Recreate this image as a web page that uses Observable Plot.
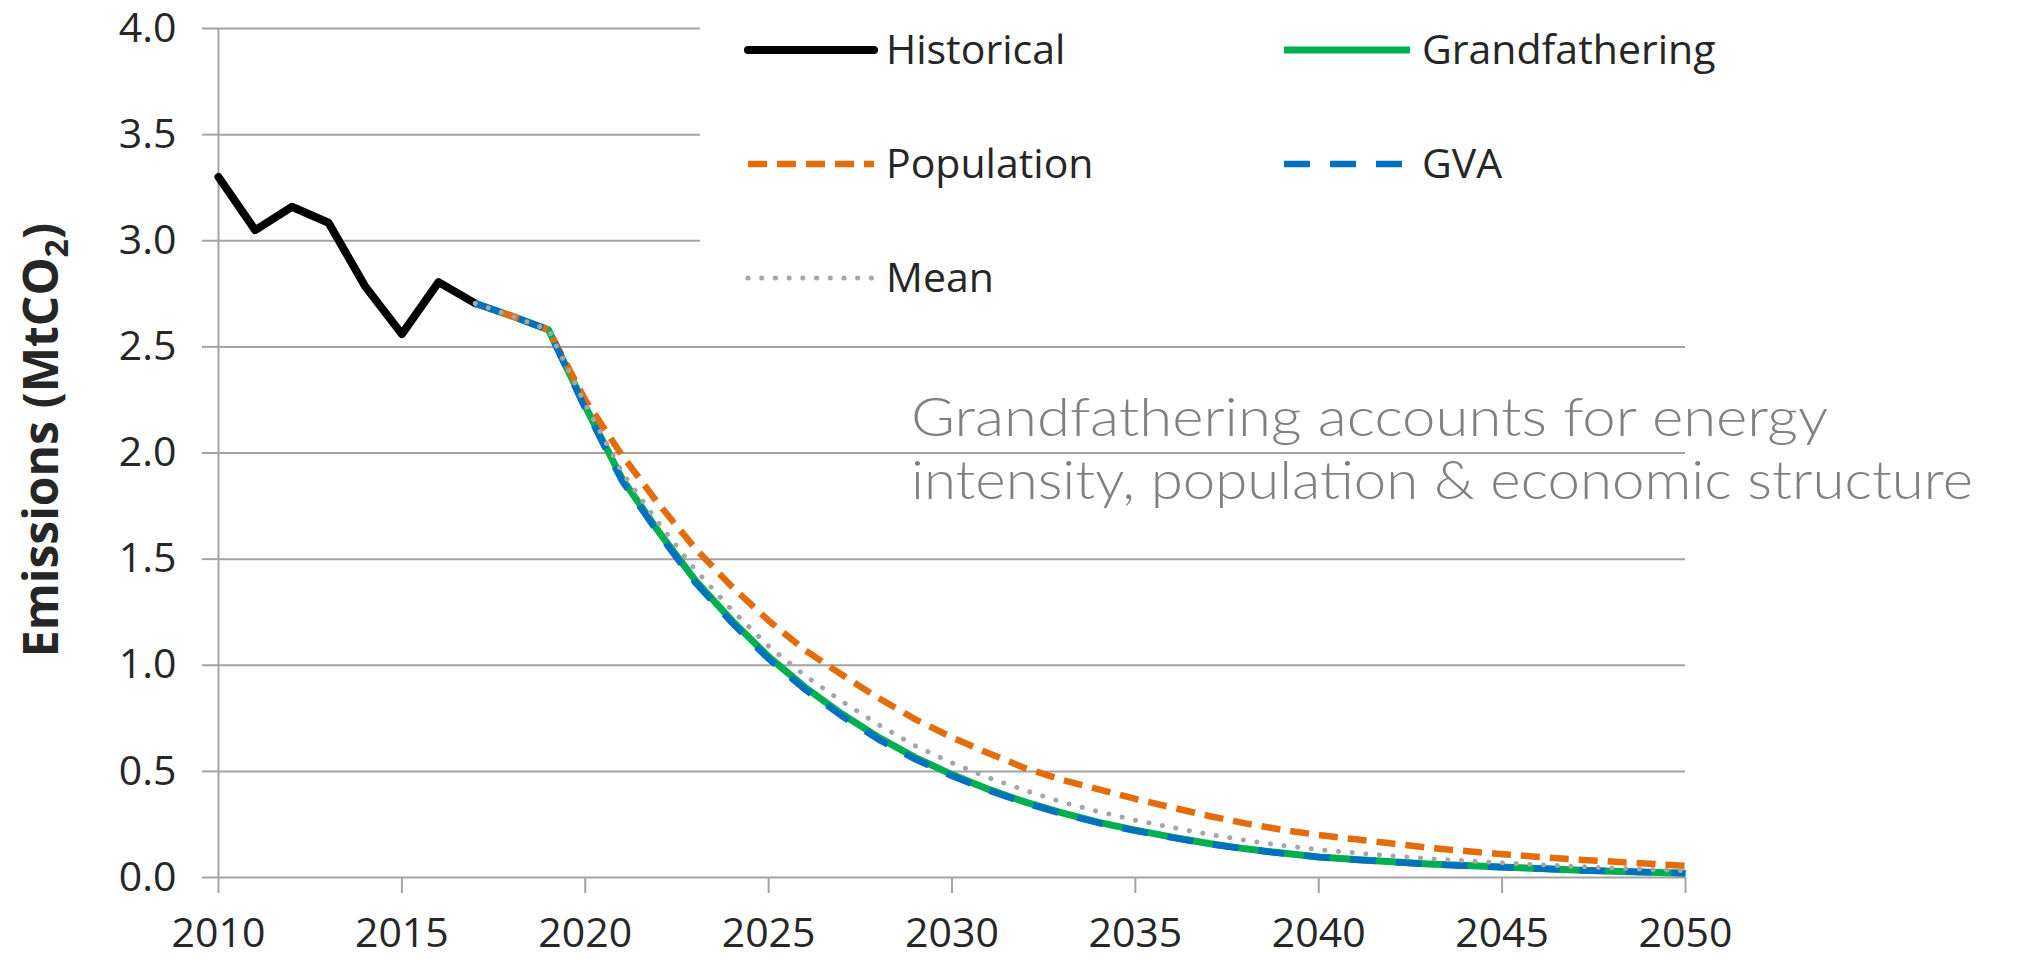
<!DOCTYPE html>
<html>
<head>
<meta charset="utf-8">
<script src="https://cdn.jsdelivr.net/npm/d3@7"></script>
<script src="https://cdn.jsdelivr.net/npm/@observablehq/plot@0.6"></script>
<style>
  html, body { margin: 0; padding: 0; background: #ffffff; }
  #chart { width: 2029px; height: 959px; }
</style>
</head>
<body>
<div id="chart"></div>
<script>
// ---------------- data ----------------
const histYears = [2010, 2011, 2012, 2013, 2014, 2015, 2016, 2017];
const historical = [3.30, 3.05, 3.16, 3.085, 2.785, 2.56, 2.805, 2.705];

const projYears = [2017, 2018, 2019, 2020, 2021, 2022, 2023, 2024, 2025, 2026,
  2027, 2028, 2029, 2030, 2031, 2032, 2033, 2034, 2035, 2036, 2037, 2038, 2039,
  2040, 2041, 2042, 2043, 2044, 2045, 2046, 2047, 2048, 2049, 2050];

const grandfathering = [2.705, 2.645, 2.58, 2.22, 1.88, 1.63, 1.40, 1.21, 1.04, 0.895,
  0.77, 0.66, 0.565, 0.485, 0.415, 0.355, 0.305, 0.26, 0.223, 0.19, 0.16, 0.135, 0.115,
  0.097, 0.085, 0.074, 0.064, 0.056, 0.049, 0.042, 0.035, 0.03, 0.025, 0.02];

const population = [2.705, 2.645, 2.58, 2.25, 1.99, 1.76, 1.55, 1.37, 1.21, 1.07,
  0.955, 0.845, 0.745, 0.66, 0.585, 0.515, 0.46, 0.415, 0.37, 0.33, 0.29, 0.255, 0.225,
  0.20, 0.18, 0.16, 0.14, 0.125, 0.11, 0.097, 0.085, 0.075, 0.065, 0.055];

const gva = [2.705, 2.645, 2.58, 2.21, 1.87, 1.62, 1.39, 1.20, 1.03, 0.885,
  0.76, 0.65, 0.557, 0.478, 0.41, 0.35, 0.30, 0.257, 0.22, 0.188, 0.158, 0.134, 0.114,
  0.096, 0.084, 0.073, 0.063, 0.055, 0.048, 0.042, 0.035, 0.03, 0.025, 0.02];

const mean = [2.705, 2.645, 2.58, 2.23, 1.91, 1.67, 1.45, 1.26, 1.09, 0.95,
  0.83, 0.72, 0.62, 0.54, 0.47, 0.41, 0.355, 0.31, 0.27, 0.236, 0.203, 0.175, 0.151,
  0.131, 0.116, 0.102, 0.089, 0.079, 0.069, 0.06, 0.052, 0.045, 0.038, 0.032];

const xTicks = [2010, 2015, 2020, 2025, 2030, 2035, 2040, 2045, 2050];
const yTicks = [0, 0.5, 1.0, 1.5, 2.0, 2.5, 3.0, 3.5, 4.0];

const seriesNames = ["Historical", "Grandfathering", "Population", "GVA", "Mean"];
const yLabel = "Emissions (MtCO";
const yLabelSub = "2";
const annotationLines = [
  "Grandfathering accounts for energy",
  "intensity, population & economic structure"
];

// ---------------- styles ----------------
const gridColor = "#a3a3a3";
const ink = "#262626";
const styles = {
  Historical:     {stroke: "#000000", strokeWidth: 8,   dash: null,       cap: "round"},
  Grandfathering: {stroke: "#00b050", strokeWidth: 7,   dash: null,       cap: "butt"},
  Population:     {stroke: "#e46c0a", strokeWidth: 6.5, dash: "19,10",    cap: "butt"},
  GVA:            {stroke: "#0070c0", strokeWidth: 6.5, dash: "26,20",    cap: "butt"},
  Mean:           {stroke: "#a6a6a6", strokeWidth: 5,   dash: "0.1,13.6", cap: "round"}
};

const rows = (years, vals) => years.map((year, i) => ({year, value: vals[i]}));
const seriesData = {
  Historical: rows(histYears, historical),
  Grandfathering: rows(projYears, grandfathering),
  Population: rows(projYears, population),
  GVA: rows(projYears, gva),
  Mean: rows(projYears, mean)
};

const lineMark = name => Plot.line(seriesData[name], {
  x: "year", y: "value",
  stroke: styles[name].stroke,
  strokeWidth: styles[name].strokeWidth,
  strokeDasharray: styles[name].dash,
  strokeLinecap: styles[name].cap,
  strokeLinejoin: "round"
});

const W = 2029, H = 959;
const plot = Plot.plot({
  width: W, height: H,
  marginLeft: 218, marginRight: 344, marginTop: 28, marginBottom: 82,
  style: {fontFamily: "'Open Sans', 'Liberation Sans', sans-serif", fontSize: "41px", color: ink, background: "#ffffff", overflow: "visible"},
  x: {domain: [2010, 2050]},
  y: {domain: [0, 4]},
  marks: [
    Plot.gridY(yTicks, {stroke: gridColor, strokeOpacity: 1, strokeWidth: 2}),
    Plot.axisY(yTicks, {tickFormat: d3.format(".1f"), tickSize: 16, tickPadding: 26,
      stroke: gridColor, strokeWidth: 2, strokeOpacity: 1, fill: ink, fontSize: 41, label: null}),
    Plot.axisX(xTicks, {tickFormat: d => String(d), tickSize: 16, tickPadding: 24,
      stroke: gridColor, strokeWidth: 2, strokeOpacity: 1, fill: ink, fontSize: 41, label: null}),
    Plot.ruleX([2010], {stroke: gridColor, strokeWidth: 2}),
    lineMark("Historical"),
    lineMark("Grandfathering"),
    lineMark("Population"),
    lineMark("GVA"),
    lineMark("Mean")
  ]
});

document.getElementById("chart").appendChild(plot);

// ---------------- overlay: legend, annotation, y label ----------------
const svg = d3.select(plot);

// legend (inside plot area, white box)
const legend = svg.append("g").attr("class", "legend").attr("text-anchor", "start");
legend.append("rect")
  .attr("x", 700).attr("y", 0).attr("width", 1329).attr("height", 312)
  .attr("fill", "#ffffff");
const legendLayout = [
  {name: "Historical",     col: 0, row: 0},
  {name: "Grandfathering", col: 1, row: 0},
  {name: "Population",     col: 0, row: 1},
  {name: "GVA",            col: 1, row: 1},
  {name: "Mean",           col: 0, row: 2}
];
const colX = [748, 1284], rowY = [50, 164, 278], swatchLen = 126;
legendLayout.forEach(({name, col, row}) => {
  const s = styles[name];
  const x0 = colX[col], y0 = rowY[row];
  legend.append("line")
    .attr("x1", x0).attr("x2", x0 + swatchLen)
    .attr("y1", y0).attr("y2", y0)
    .attr("stroke", s.stroke).attr("stroke-width", s.strokeWidth)
    .attr("stroke-dasharray", s.dash).attr("stroke-linecap", s.cap === "butt" ? "butt" : "round");
  legend.append("text")
    .attr("x", x0 + swatchLen + 12).attr("y", y0 + 14)
    .attr("text-anchor", "start")
    .attr("fill", ink)
    .attr("font-family", "'Open Sans', 'Liberation Sans', sans-serif")
    .attr("font-size", 41)
    .text(name);
});

// annotation
const ann = svg.append("g").attr("class", "annotation").attr("text-anchor", "start");
annotationLines.forEach((t, i) => {
  ann.append("text")
    .attr("x", 911).attr("y", 436 + i * 62.5)
    .attr("text-anchor", "start")
    .attr("fill", "#808080")
    .attr("font-family", "Lato, 'DejaVu Sans', sans-serif")
    .attr("font-weight", 300)
    .attr("font-size", 54)
    .attr("textLength", i === 0 ? 917 : 1062)
    .attr("lengthAdjust", "spacingAndGlyphs")
    .text(t);
});

// y-axis title with subscript
const yl = svg.append("text")
  .attr("transform", "translate(58,440) rotate(-90)")
  .attr("text-anchor", "middle")
  .attr("fill", ink)
  .attr("font-family", "'Open Sans', 'Liberation Sans', sans-serif")
  .attr("font-weight", 700)
  .attr("font-size", 48);
yl.append("tspan").text(yLabel);
yl.append("tspan").attr("font-size", 32).attr("dy", 10).text(yLabelSub);
yl.append("tspan").attr("dy", -10).text(")");
</script>
</body>
</html>
